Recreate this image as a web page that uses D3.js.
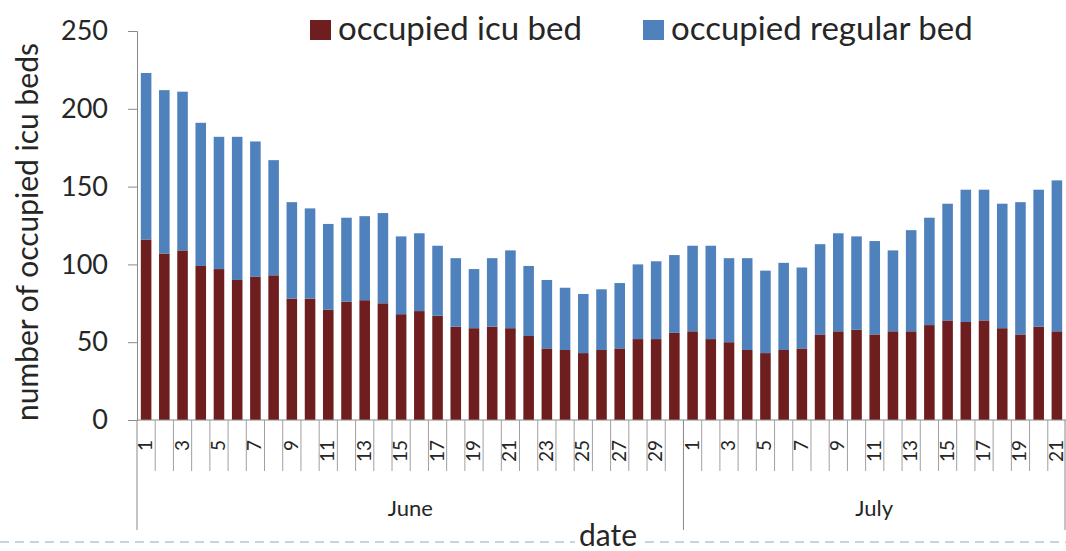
<!DOCTYPE html>
<html>
<head>
<meta charset="utf-8">
<script src="https://cdn.jsdelivr.net/npm/d3@7"></script>
<style>
  body { margin: 0; background: #fff; }
  svg { display: block; }
  text { font-family: Lato, "Open Sans", sans-serif; fill: #262626; }
</style>
</head>
<body>
<svg id="mysvg" width="1066" height="551"></svg>
<script>
// days shown on the x axis, grouped by month
let juneDays = [1,2,3,4,5,6,7,8,9,10,11,12,13,14,15,16,17,18,19,20,21,22,23,24,25,26,27,28,29,30];
let julyDays = [1,2,3,4,5,6,7,8,9,10,11,12,13,14,15,16,17,18,19,20,21];
let months = ["June", "July"];

// occupied icu beds (bottom segment)
let icuBeds = [116,107,109,99,97,90,92,93,78,78, 71,76,77,75,68,70,67,60,59,60,
               59,54,46,45,43,45,46,52,52,56, 57,52,50,45,43,45,46,55,57,58,
               55,57,57,61,64,63,64,59,55,60,57];
// occupied regular beds (stacked on top)
let regularBeds = [107,105,102,92,85,92,87,74,62,58, 55,54,54,58,50,50,45,44,38,44,
                   50,45,44,40,38,39,42,48,50,50, 55,60,54,59,53,56,52,58,63,60,
                   60,52,65,69,75,85,84,80,85,88,97];

let yTicks = [0, 50, 100, 150, 200, 250];
let seriesNames = ["occupied icu bed", "occupied regular bed"];
let colors = ["#6e1e1e", "#4f81bd"];

function buildRows()
{
    let rows = [];
    let monthDays = [juneDays, julyDays];
    let k = 0;
    for (let m=0; m<months.length; ++m)
    {
        for (let d of monthDays[m])
        {
            rows.push({key: months[m] + d, day: d, month: months[m], icu: icuBeds[k], regular: regularBeds[k]});
            ++k;
        }
    }
    return rows;
}

let rows = buildRows();
let svg = d3.select('#mysvg');

let x = d3.scaleBand()
    .domain(rows.map(d => d.key))
    .range([137, 1066])
    .paddingInner(0.42)
    .paddingOuter(0.21);

let y = d3.scaleLinear()
    .domain([0, 250])
    .range([420, 31]);

let stack = d3.stack().keys(["icu", "regular"]);
let layers = stack(rows);

// bars
svg.selectAll("g.layer")
    .data(layers)
    .enter()
    .append("g")
    .attr("class", "layer")
    .attr("fill", (d, i) => colors[i])
    .selectAll("rect")
    .data(d => d)
    .enter()
    .append("rect")
    .attr("x", d => x(d.data.key))
    .attr("width", x.bandwidth())
    .attr("y", d => y(d[1]))
    .attr("height", d => y(d[0]) - y(d[1]));

// y axis
let yAxis = svg.append("g")
    .attr("transform", "translate(137,0)")
    .call(d3.axisLeft(y).tickValues(yTicks).tickSize(9).tickPadding(20));
yAxis.select(".domain").attr("stroke", "#8a8a8a");
yAxis.selectAll(".tick line").attr("stroke", "#8a8a8a");
yAxis.selectAll(".tick text")
    .style("font-family", "Lato, sans-serif")
    .style("font-size", "27px")
    .attr("fill", "#262626");

// x axis base line
svg.append("line")
    .attr("x1", 137).attr("x2", 1066)
    .attr("y1", y(0)).attr("y2", y(0))
    .attr("stroke", "#8a8a8a");

// category separators
let half = x.step() * 0.21;
svg.selectAll("line.sep")
    .data(rows.slice(1))
    .enter()
    .append("line")
    .attr("class", "sep")
    .attr("x1", d => x(d.key) - half)
    .attr("x2", d => x(d.key) - half)
    .attr("y1", y(0))
    .attr("y2", 471)
    .attr("stroke", "#a0a0a0");

// month separators
let monthEdges = [x(rows[0].key) - half, x("July1") - half, x(rows[rows.length-1].key) + x.bandwidth() + half - 1];
svg.selectAll("line.msep")
    .data(monthEdges)
    .enter()
    .append("line")
    .attr("class", "msep")
    .attr("x1", d => d).attr("x2", d => d)
    .attr("y1", y(0)).attr("y2", 530)
    .attr("stroke", "#8a8a8a");

// day labels (odd days only), rotated to read bottom-to-top
let dayLabels = svg.selectAll("g.day")
    .data(rows.filter(d => d.day % 2 == 1))
    .enter()
    .append("g")
    .attr("class", "day")
    .attr("transform", d => "translate(" + (x(d.key) + x.bandwidth()/2 + 6) + ",440)");
dayLabels.append("text")
    .attr("transform", "rotate(-90)")
    .attr("text-anchor", "end")
    .style("font-size", "19px")
    .text(d => d.day);

// month labels
svg.selectAll("text.month")
    .data(months)
    .enter()
    .append("text")
    .attr("class", "month")
    .attr("x", (d, i) => (monthEdges[i] + monthEdges[i+1]) / 2)
    .attr("y", 516)
    .attr("text-anchor", "middle")
    .style("font-size", "22px")
    .text(d => d);

// dashed line under the axis with the title
svg.append("line")
    .attr("x1", 0).attr("x2", 1066)
    .attr("y1", 542).attr("y2", 542)
    .attr("stroke", "#8fa8bf")
    .attr("stroke-dasharray", "9,6");
svg.append("rect")
    .attr("x", 575).attr("y", 522).attr("width", 66).attr("height", 29)
    .attr("fill", "white");
svg.append("text")
    .attr("x", 608).attr("y", 546)
    .attr("text-anchor", "middle")
    .style("font-size", "30px")
    .text("date");

// y axis title
svg.append("text")
    .attr("transform", "translate(38,232) rotate(-90)")
    .attr("text-anchor", "middle")
    .style("font-size", "30px")
    .text("number of occupied icu beds");

// legend
let legendX = [310, 643];
let legend = svg.selectAll("g.legend")
    .data(seriesNames)
    .enter()
    .append("g")
    .attr("class", "legend")
    .attr("transform", (d, i) => "translate(" + legendX[i] + ",20)");
legend.append("rect")
    .attr("width", 21).attr("height", 20)
    .attr("fill", (d, i) => colors[i]);
legend.append("text")
    .attr("x", 28).attr("y", 20)
    .style("font-size", "33px")
    .text(d => d);
</script>
</body>
</html>
